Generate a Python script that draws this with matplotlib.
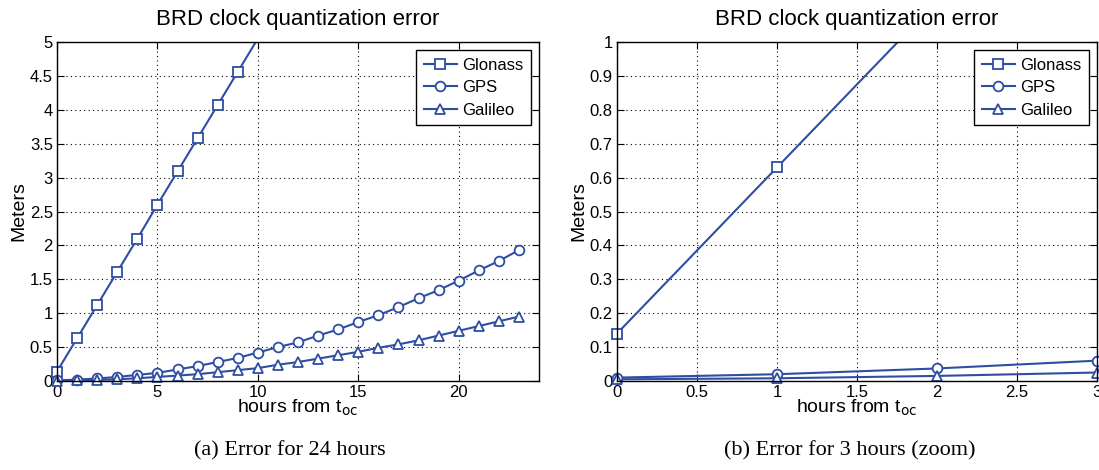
import numpy as np
import matplotlib
matplotlib.use("Agg")
import matplotlib.pyplot as plt

# hours from t_oc
hours_24 = list(range(24))
hours_3 = [0, 1, 2, 3]

# error in meters
glonass_24 = [0.14, 0.63, 1.12, 1.61, 2.10, 2.60, 3.09, 3.58, 4.07, 4.56, 5.05, 5.54,
              6.03, 6.52, 7.01, 7.50, 7.99, 8.48, 8.97, 9.46, 9.95, 10.44, 10.93, 11.42]
gps_24 = [0.01, 0.02, 0.037, 0.06, 0.09, 0.12, 0.17, 0.22, 0.28, 0.34, 0.42, 0.50,
          0.57, 0.67, 0.76, 0.87, 0.97, 1.09, 1.22, 1.34, 1.48, 1.63, 1.77, 1.93]
galileo_24 = [0.005, 0.008, 0.015, 0.025, 0.04, 0.06, 0.08, 0.10, 0.13, 0.16, 0.19, 0.24,
              0.28, 0.33, 0.38, 0.43, 0.49, 0.54, 0.60, 0.67, 0.74, 0.81, 0.88, 0.95]
glonass_3 = glonass_24[:4]
gps_3 = gps_24[:4]
galileo_3 = galileo_24[:4]

yticks_24 = np.arange(0, 5.01, 0.5)
xticks_24 = [0, 5, 10, 15, 20]
yticks_3 = np.arange(0, 1.001, 0.1)
xticks_3 = np.arange(0, 3.01, 0.5)

names = ["Glonass", "GPS", "Galileo"]
markers = ["s", "o", "^"]
blue = "#2f4ea3"

plt.rcParams['font.family'] = ['Liberation Sans', 'DejaVu Sans']

fig = plt.figure(figsize=(10.99, 4.70), dpi=100)
ax1 = fig.add_axes([57 / 1099, 1 - 381 / 470, 482 / 1099, 339 / 470])
ax2 = fig.add_axes([617 / 1099, 1 - 381 / 470, 480 / 1099, 339 / 470])


def fmt(v):
    return "%g" % round(v, 2)


def draw(ax, x, series, xlim, ylim, xticks, yticks):
    for ys, name, m in zip(series, names, markers):
        # line clipped to the axes
        ax.plot(x, ys, color=blue, linewidth=1.5, zorder=3)
        # markers inside the limits, drawn unclipped like matlab does
        xs = [a for a, b in zip(x, ys) if xlim[0] <= a <= xlim[1] and b <= ylim[1]]
        yv = [b for a, b in zip(x, ys) if xlim[0] <= a <= xlim[1] and b <= ylim[1]]
        ax.plot(xs, yv, linestyle='none', color=blue, marker=m, markersize=7,
                markerfacecolor='white', markeredgewidth=1.3, clip_on=False, zorder=4)
        # legend handle
        ax.plot([], [], color=blue, marker=m, markersize=7, markerfacecolor='white',
                markeredgewidth=1.3, linewidth=1.5, label=name)
    ax.set_xlim(*xlim)
    ax.set_ylim(*ylim)
    ax.set_xticks(xticks)
    ax.set_xticklabels([fmt(v) for v in xticks])
    ax.set_yticks(yticks)
    ax.set_yticklabels([fmt(v) for v in yticks])
    ax.tick_params(direction='in', top=True, right=True, labelsize=12, length=5, pad=3)
    ax.grid(True, linestyle=(0, (1, 3)), color='black', linewidth=0.8)
    for sp in ax.spines.values():
        sp.set_linewidth(1.0)
        sp.set_zorder(5)
    ax.set_title("BRD clock quantization error", fontsize=16, pad=12)
    ax.set_ylabel("Meters", fontsize=14, labelpad=2)
    ax.set_xlabel("hours from t$_{\\mathrm{oc}}$", fontsize=14, labelpad=-2)
    leg = ax.legend(loc='upper right', fontsize=12, fancybox=False, framealpha=1,
                    edgecolor='black', handlelength=2.0, handletextpad=0.3,
                    borderpad=0.45, labelspacing=0.45, borderaxespad=0.5)
    leg.get_frame().set_linewidth(1.0)
    leg.set_zorder(6)


draw(ax1, hours_24, [glonass_24, gps_24, galileo_24], (0, 24), (0, 5), xticks_24, yticks_24)
draw(ax2, hours_3, [glonass_3, gps_3, galileo_3], (0, 3), (0, 1), xticks_3, yticks_3)

fig.text(290 / 1099, 1 - 451 / 470, "(a) Error for 24 hours", ha='center', va='center',
         fontsize=16, family='Liberation Serif')
fig.text(850 / 1099, 1 - 451 / 470, "(b) Error for 3 hours (zoom)", ha='center', va='center',
         fontsize=16, family='Liberation Serif')

fig.savefig("out.png", dpi=100)
